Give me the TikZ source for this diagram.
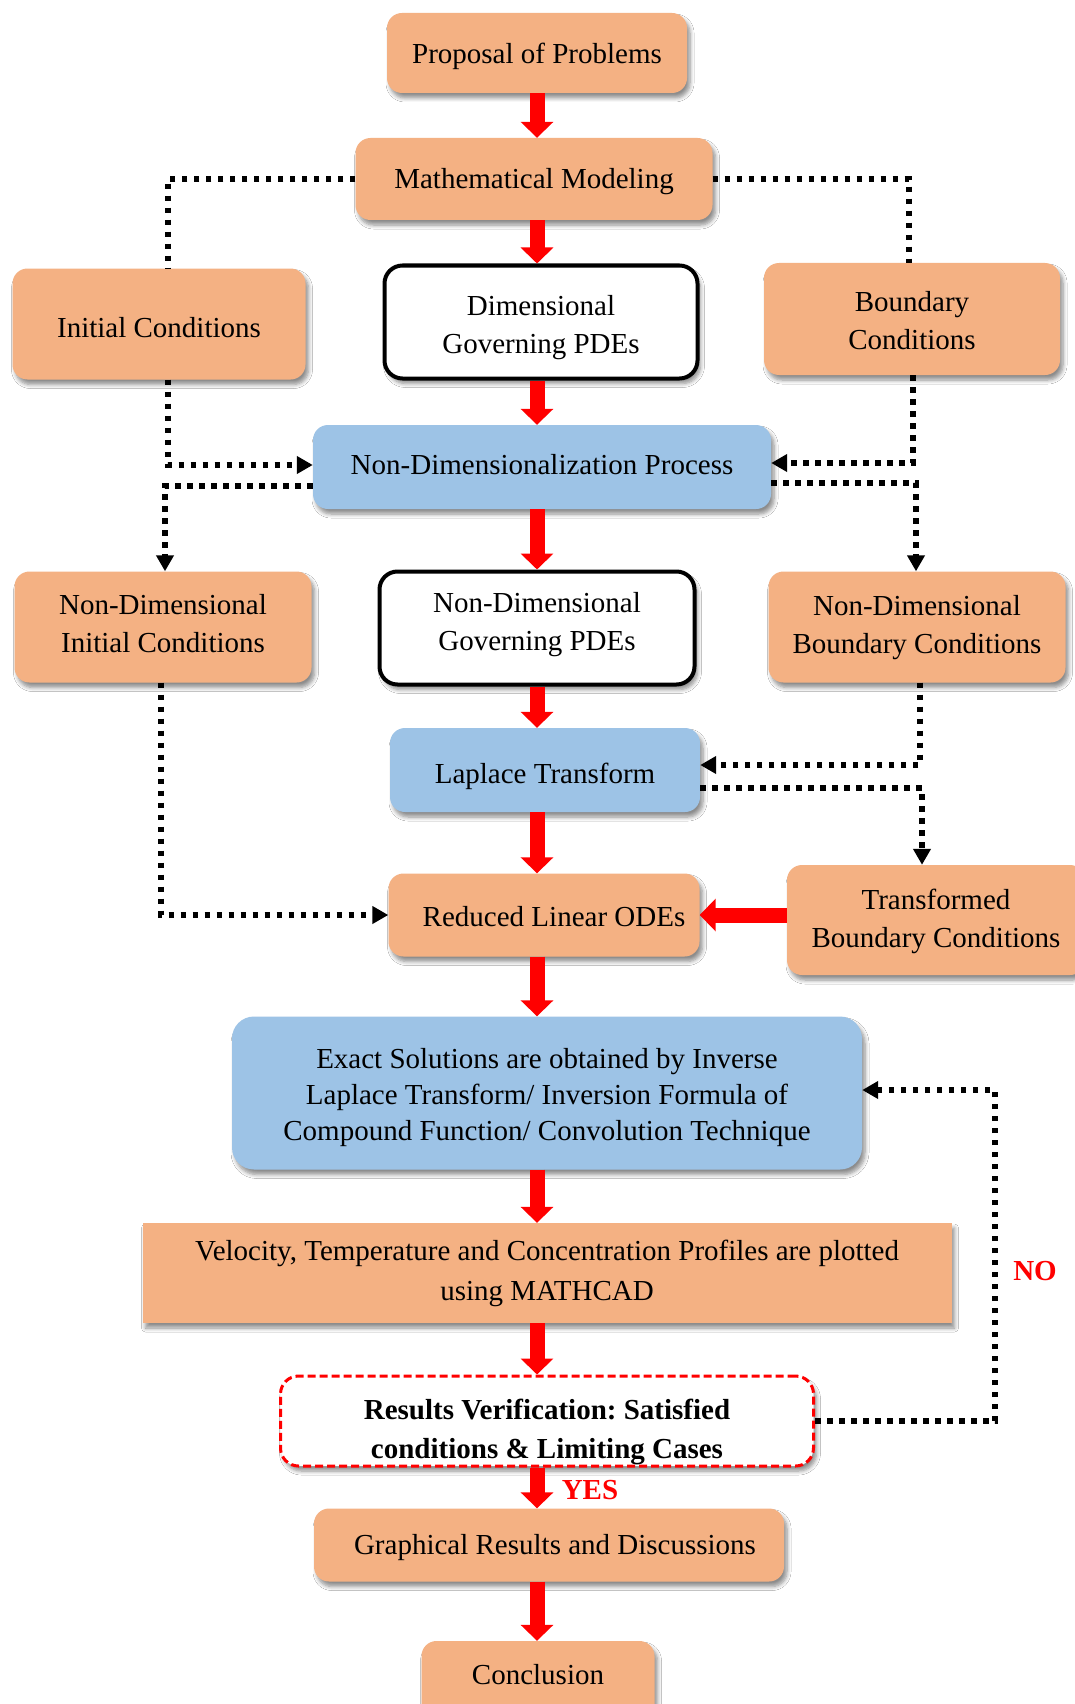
\documentclass[tikz,border=0pt]{standalone}
\usepackage{fontspec}
\setmainfont{Liberation Serif}
\frenchspacing
\usetikzlibrary{arrows.meta,shadows.blur,calc}
\definecolor{orng}{RGB}{244,177,131}
\definecolor{blu}{RGB}{157,195,230}
\definecolor{rd}{RGB}{255,0,0}
\tikzset{
  shad/.style={blur shadow={shadow blur steps=6,shadow xshift=3pt,shadow yshift=-5pt,shadow blur radius=4pt,shadow opacity=45}},
  base/.style={align=center,inner sep=0pt,font=\fontsize{29}{38}\selectfont,shad},
  obox/.style={base,fill=orng,rounded corners=15pt},
  bbox/.style={base,fill=blu,rounded corners=15pt},
  wbox/.style={base,fill=white,draw=black,line width=4pt,rounded corners=18pt},
  sqbox/.style={base,fill=orng},
  rbox/.style={base,fill=white,draw=rd,line width=3pt,dash pattern=on 8pt off 4pt,rounded corners=18pt},
  rarrow/.style={draw=rd,line width=15pt,-{Triangle[length=16pt,width=32pt]}},
  dline/.style={draw=black,line width=5.5pt,dash pattern=on 5.5pt off 6.5pt},
  darrow/.style={dline,-{Triangle[length=16pt,width=17pt]}},
  lbl/.style={text=rd,font=\fontsize{29}{34}\selectfont\bfseries,inner sep=0pt},
}
\begin{document}
\begin{tikzpicture}[x=1pt,y=-1pt]
\useasboundingbox[fill=white] (0,0) rectangle (1075,1704);
% nodes
\node[obox,minimum width=300pt,minimum height=80pt,text height=28.6pt,text depth=8pt] (prop) at (537,53) {Proposal of Problems};
\node[obox,minimum width=357pt,minimum height=82pt,text height=26.4pt,text depth=8pt] (math) at (534,179) {Mathematical Modeling};
\node[obox,minimum width=293pt,minimum height=111pt,text height=34.6pt,text depth=8pt] (ic) at (159,324) {Initial Conditions};
\node[wbox,minimum width=313pt,minimum height=113pt,text height=70.8pt,text depth=8pt] (dim) at (541,322) {Dimensional\\Governing PDEs};
\node[obox,minimum width=296pt,minimum height=112pt,text height=68pt,text depth=8pt] (bc) at (912,319) {Boundary\\Conditions};
\node[bbox,minimum width=458pt,minimum height=84pt,text height=23.6pt,text depth=8pt] (nd) at (542,467) {Non-Dimensionalization Process};
\node[obox,minimum width=297pt,minimum height=111pt,text height=59.4pt,text depth=8pt] (ndic) at (163,627) {Non-Dimensional\\Initial Conditions};
\node[wbox,minimum width=315pt,minimum height=113pt,text height=53.4pt,text depth=8pt] (ndpde) at (537,628) {Non-Dimensional\\Governing PDEs};
\node[obox,minimum width=297pt,minimum height=111pt,text height=60pt,text depth=8pt] (ndbc) at (917,627) {Non-Dimensional\\Boundary Conditions};
\node[bbox,minimum width=310pt,minimum height=84pt,text height=35pt,text depth=8pt] (lap) at (545,770) {Laplace Transform};
\node[obox,minimum width=311pt,minimum height=83pt,text height=30pt,text depth=8pt] (red) at (544,915) {\hspace*{20pt}Reduced Linear ODEs};
\node[obox,minimum width=298pt,minimum height=110pt,text height=63pt,text depth=8pt] (tbc) at (936,920) {Transformed\\Boundary Conditions};
\node[bbox,minimum width=630pt,minimum height=153pt,rounded corners=22pt,font=\fontsize{29}{36}\selectfont,text height=103pt,text depth=8pt] (exact) at (547,1093) {Exact Solutions are obtained by Inverse\\Laplace Transform/ Inversion Formula of\\Compound Function/ Convolution Technique};
\node[sqbox,minimum width=809pt,minimum height=100pt,font=\fontsize{29}{40}\selectfont,text height=62pt,text depth=8pt] (vel) at (547,1273) {Velocity, Temperature and Concentration Profiles are plotted\\using MATHCAD};
\node[rbox,minimum width=533pt,minimum height=89pt,font=\fontsize{29}{39}\selectfont\bfseries,text height=82pt,text depth=8pt] (res) at (547,1421) {Results Verification: Satisfied\\conditions \& Limiting Cases};
\node[obox,minimum width=470pt,minimum height=73pt,text height=26pt,text depth=8pt] (graph) at (549,1545) {\hspace*{12pt}Graphical Results and Discussions};
\node[obox,minimum width=233pt,minimum height=82pt,text height=12pt,text depth=8pt] (concl) at (538,1682) {Conclusion};
% helper coordinates
\coordinate (ax) at (537,0);
\coordinate (xL1) at (168,0);
\coordinate (xR1) at (909,0);
\coordinate (xR2) at (913,0);
\coordinate (xL3) at (165,0);
\coordinate (xR3) at (916,0);
\coordinate (xL4) at (161,0);
\coordinate (xR4) at (920,0);
\coordinate (xR5) at (922,0);
\coordinate (xNO) at (995,0);
\coordinate (y465) at (0,465);
\coordinate (y463) at (0,463);
\coordinate (y486) at (0,486);
\coordinate (y483) at (0,483);
\coordinate (y765) at (0,765);
\coordinate (y788) at (0,788);
\coordinate (y1090) at (0,1090);
% red arrows
\draw[rarrow] (prop.south -| ax) -- (math.north -| ax);
\draw[rarrow] (math.south -| ax) -- (dim.north -| ax);
\draw[rarrow] (dim.south -| ax) -- (nd.north -| ax);
\draw[rarrow] (nd.south -| ax) -- (ndpde.north -| ax);
\draw[rarrow] (ndpde.south -| ax) -- (lap.north -| ax);
\draw[rarrow] (lap.south -| ax) -- (red.north -| ax);
\draw[rarrow] (red.south -| ax) -- (exact.north -| ax);
\draw[rarrow] (exact.south -| ax) -- (vel.north -| ax);
\draw[rarrow] (vel.south -| ax) -- (res.north -| ax);
\draw[rarrow] (res.south -| ax) -- (graph.north -| ax);
\draw[rarrow] (graph.south -| ax) -- (concl.north -| ax);
\draw[rarrow] (tbc.west |- red.east) -- (red.east);
% dotted connectors
\draw[dline] (math.west) -| (ic.north -| xL1);
\draw[dline] (math.east) -| (bc.north -| xR1);
\draw[darrow] (ic.south -| xL1) |- (nd.west |- y465);
\draw[darrow] (bc.south -| xR2) |- (nd.east |- y463);
\draw[darrow] (nd.west |- y486) -| (ndic.north -| xL3);
\draw[darrow] (nd.east |- y483) -| (ndbc.north -| xR3);
\draw[darrow] (ndic.south -| xL4) |- (red.west);
\draw[darrow] (ndbc.south -| xR4) |- (lap.east |- y765);
\draw[darrow] (lap.east |- y788) -| (tbc.north -| xR5);
\draw[darrow] (res.east) -| (xNO |- y1090) -- (exact.east |- y1090);
% labels
\node[lbl] (no) at (1035,1271) {NO};
\node[lbl] (yes) at (590,1490) {YES};
\end{tikzpicture}
\end{document}
